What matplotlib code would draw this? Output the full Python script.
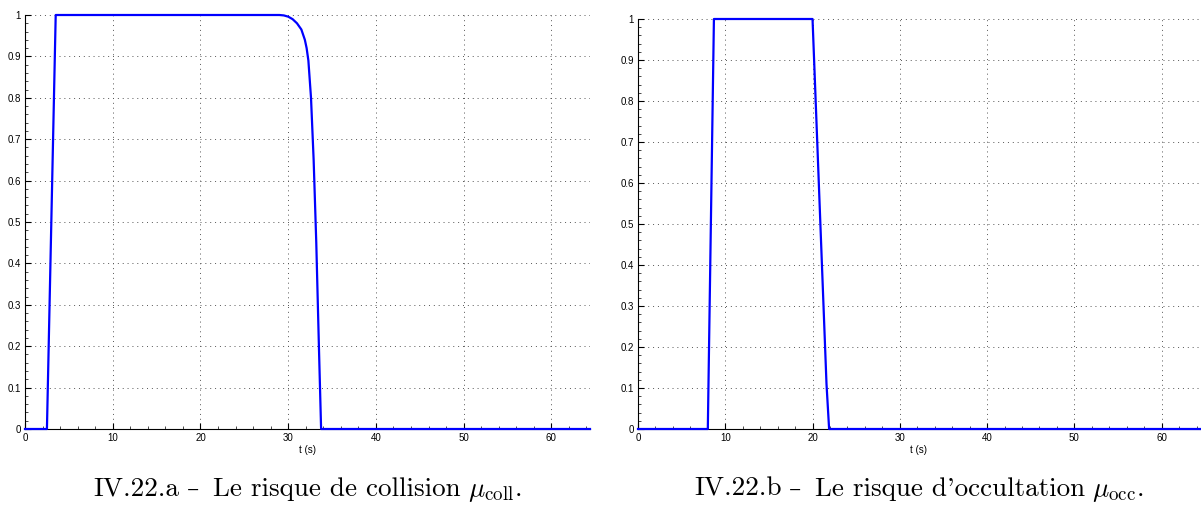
import matplotlib.pyplot as plt
import numpy as np
from matplotlib.offsetbox import AnnotationBbox, HPacker, TextArea

plt.rcParams['mathtext.fontset'] = 'cm'

# collision risk (left)
t_coll = [0, 2.5, 3.5, 29.0, 29.5, 30.0, 30.5, 31.0, 31.5, 31.9, 32.1, 32.3, 32.6, 32.9, 33.2, 33.5, 33.75, 64.4]
mu_coll = [0, 0, 1, 1, 0.999, 0.996, 0.99, 0.98, 0.965, 0.94, 0.92, 0.89, 0.8, 0.65, 0.45, 0.2, 0, 0]

# occultation risk (right)
t_occ = [0, 8.0, 8.7, 20.0, 21.6, 21.9, 64.4]
mu_occ = [0, 0, 1, 1, 0.11, 0, 0]

# caption pieces: number, title, symbol
cap_nums = ['IV.22.a', 'IV.22.b']
cap_titles = ['Le risque de collision', "Le risque d'occultation"]
cap_syms = [r'$\mu_{\mathrm{coll}}$.', r'$\mu_{\mathrm{occ}}$.']

fig = plt.figure(figsize=(12.01, 5.09), dpi=100)
W, H = 1201, 509
boxes = [(25, 590, 15, 429), (638, 1200, 19, 429)]
data = [(t_coll, mu_coll), (t_occ, mu_occ)]

cm = dict(family='cmr10', size=19.5)
for i, ((x0, x1, y0, y1), (t, mu)) in enumerate(zip(boxes, data)):
    ax = fig.add_axes([x0 / W, 1 - y1 / H, (x1 - x0) / W, (y1 - y0) / H])
    ax.plot(t, mu, color='#0000ff', lw=1.6, clip_on=False, zorder=3)
    ax.set_xlim(0, 64.4)
    ax.set_ylim(0, 1)
    ax.set_xticks(np.arange(0, 70, 10))
    ax.set_yticks(np.arange(0, 1.01, 0.1))
    ax.set_yticklabels(['0'] + [f'{v:.1f}' for v in np.arange(0.1, 0.95, 0.1)] + ['1'])
    for lab in ax.get_xticklabels() + ax.get_yticklabels():
        lab.set_family('Liberation Sans')
    ax.minorticks_on()
    ax.tick_params(direction='in', labelsize=7, length=4, width=0.8, pad=3)
    ax.tick_params(which='minor', direction='in', length=2, width=0.5)
    for s in ['top', 'right']:
        ax.spines[s].set_visible(False)
    ax.grid(True, which='major', linestyle=(0, (1, 4)), color='#555555', lw=0.7)
    ax.set_xlabel('t (s)', fontsize=7, labelpad=1, family='Liberation Sans')

    # caption below the plot
    part1 = HPacker(children=[TextArea(cap_nums[i], textprops=cm),
                              TextArea('–', textprops=dict(family='DejaVu Serif', size=17.5))],
                    sep=5.5, align='baseline')
    part2 = HPacker(children=[TextArea(cap_titles[i], textprops=cm),
                              TextArea(cap_syms[i], textprops=cm)],
                    sep=5, align='baseline')
    cap = HPacker(children=[part1, part2], sep=10, align='baseline')
    ab = AnnotationBbox(cap, ((x0 + x1) / 2 / W, 1 - 490.5 / H), xycoords='figure fraction',
                        frameon=False, box_alignment=(0.5, 0.5), pad=0)
    fig.add_artist(ab)

fig.savefig('out.png', dpi=100)
